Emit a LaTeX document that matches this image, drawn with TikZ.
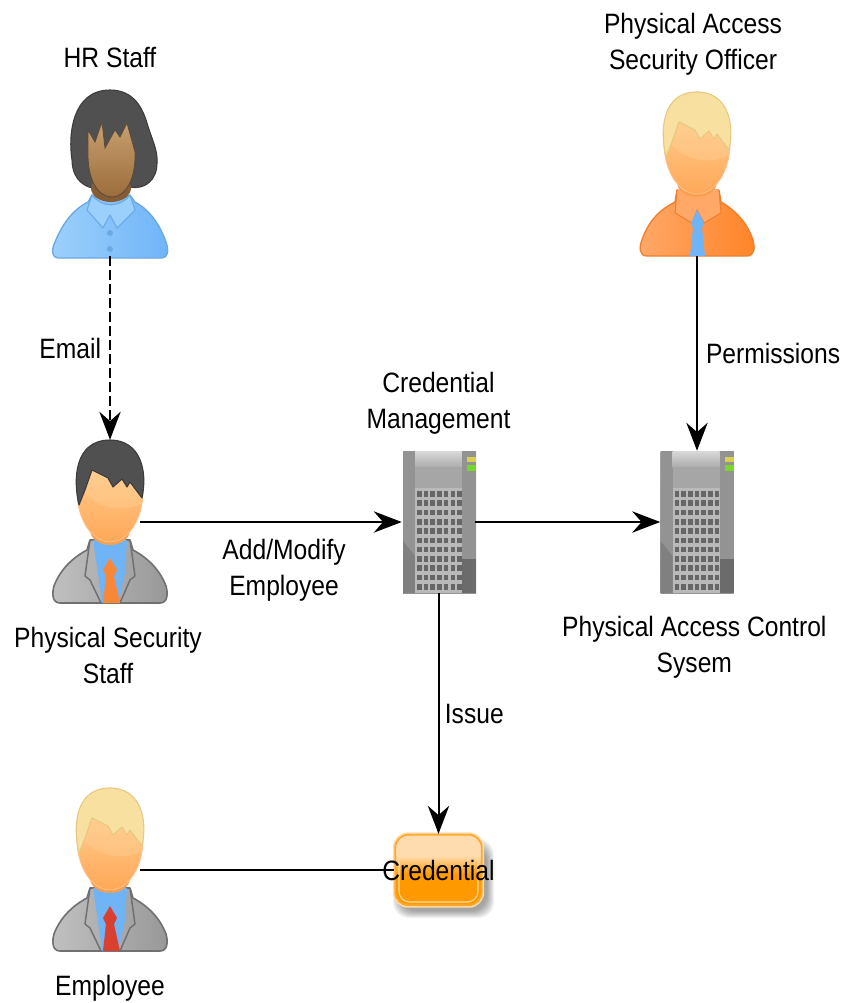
\documentclass[tikz,border=0pt]{standalone}
\usepackage{fontspec}
\setmainfont{Liberation Sans}[FakeStretch=0.88]
\usetikzlibrary{positioning,arrows.meta}

\definecolor{blondfill}{HTML}{F8E0A0}
\definecolor{blonddraw}{HTML}{E8C880}
\definecolor{darkfill}{HTML}{505050}
\definecolor{darkdraw}{HTML}{3C3C3C}
\definecolor{skintop}{HTML}{FFD8A0}
\definecolor{skinbot}{HTML}{FFA858}
\definecolor{skinneck}{HTML}{F8A050}
\definecolor{browntop}{HTML}{C8A070}
\definecolor{brownbot}{HTML}{9C6C3C}
\definecolor{shirtblue}{HTML}{70B4F8}
\definecolor{shirtlight}{HTML}{9CD0FC}
\definecolor{shirtdraw}{HTML}{6CA8E4}
\definecolor{suitlight}{HTML}{C0C0C0}
\definecolor{suitdark}{HTML}{989898}
\definecolor{suitdraw}{HTML}{707070}
\definecolor{tieorange}{HTML}{F88838}
\definecolor{tiered}{HTML}{D84030}
\definecolor{orangelight}{HTML}{FFA868}
\definecolor{orangedark}{HTML}{FF8428}
\definecolor{orangedraw}{HTML}{EE8030}
\definecolor{credtop}{HTML}{FFDCB0}
\definecolor{credbot}{HTML}{FF9900}
\definecolor{credring}{HTML}{FFA830}
\definecolor{credhalo}{HTML}{FFDDA8}

\pgfdeclareverticalshading{credshade}{100bp}{color(0bp)=(credbot); color(47bp)=(credbot);
  color(60bp)=(credtop); color(100bp)=(credtop)}

\tikzset{
  line/.style={line width=1.5pt,-{Stealth[length=21pt,width=16pt,inset=7pt]}},
  plainline/.style={line width=1.5pt},
  lab/.style={font=\fontsize{21}{27}\selectfont,align=center,inner sep=2pt},
  personbox/.style={minimum width=45pt,minimum height=123pt,inner sep=0pt},
  serverbox/.style={minimum width=54.75pt,minimum height=106.5pt,inner sep=0pt},
  credbox/.style={rounded corners=10pt,minimum width=65pt,minimum height=53pt,inner sep=0pt,
    draw=credring,line width=1.3pt,shading=credshade,preaction={draw=credhalo,line width=3.6pt}},
  pics/shortface/.style={code={
    \fill[skinneck] (0,90) ellipse [x radius=20,y radius=15];
    \shade[top color=skintop,bottom color=skinbot,draw=skinbot!70!white,line width=.6pt]
      (0,51) ellipse [x radius=33,y radius=51];
    \begin{scope}
      \clip (0,51) ellipse [x radius=33,y radius=51];
      \fill[skintop,opacity=.3] (-34,44) .. controls (-14,70) and (14,74) .. (34,62) -- (34,0) -- (-34,0) -- cycle;
    \end{scope}
  }},
  pics/shorthair/.style 2 args={code={
    \draw[fill=#1,draw=#2,line width=.8pt,line join=round]
      (-31,65) .. controls (-37,40) and (-36,0) .. (0,0) .. controls (30,0) and (38,30) .. (32,58)
      -- (20,42) -- (17,47) -- (12,39) -- (3,47) -- (-2,38) -- (-18,30) -- (-25,50) -- cycle;
  }},
  pics/suitbody/.style={code={
    \draw[left color=suitlight,right color=suitdark,draw=suitdraw,line width=1.2pt,line join=round]
      (-50,163) .. controls (-58,163) and (-58,153) .. (-56,146)
      .. controls (-50,130) and (-38,118) .. (-23,110) -- (-20,100) -- (20,100) -- (23,110)
      .. controls (38,118) and (50,130) .. (56,146) .. controls (58,153) and (58,163) .. (50,163) -- cycle;
    \fill[shirtblue] (-17,100) -- (17,100) -- (15,133) -- (8,163) -- (-8,163) -- (-12,133) -- cycle;
    \draw[suitdraw,line width=1.1pt,line join=round] (-20,100) -- (-25,136) -- (-20,140) -- (-9,163);
    \draw[suitdraw,line width=1.1pt,line join=round] (20,100) -- (25,136) -- (20,140) -- (10,163);
    \fill[#1] (0,118) -- (7,130) -- (4,136) -- (10,163) -- (-7,163) -- (-4,136) -- (-7,130) -- cycle;
  }},
  pics/officerbody/.style={code={
    \draw[left color=orangelight,right color=orangedark,draw=orangedraw,line width=1pt,line join=round]
      (-50,164) .. controls (-58,164) and (-58,155) .. (-55,148)
      .. controls (-49,130) and (-38,118) .. (-22,110) -- (-20,98) -- (22,98) -- (24,110)
      .. controls (38,118) and (50,130) .. (56,148) .. controls (58,155) and (58,164) .. (50,164) -- cycle;
    \draw[fill=orangelight,draw=orangedraw,line width=.8pt,line join=round]
      (-20,98) -- (-22,121) -- (-5,131) -- (0,118) -- (7,131) -- (24,121) -- (22,98);
    \fill[shirtblue] (0,118) -- (7,131) -- (5,136) -- (8,164) -- (-7,164) -- (-4,136) -- (-6,131) -- cycle;
  }},
  pics/bobhead/.style={code={
    \draw[fill=darkfill,draw=darkdraw,line width=.8pt]
      (-18,98) .. controls (-30,95) and (-38,85) .. (-38,70) .. controls (-42,45) and (-38,0) .. (0,0)
      .. controls (25,0) and (33,20) .. (37,33) .. controls (42,50) and (48,60) .. (47,73)
      .. controls (47,90) and (35,100) .. (20,97) -- cycle;
    \fill[brownbot!85!black] (1,98) ellipse [x radius=20,y radius=14];
    \shade[top color=browntop,bottom color=brownbot,draw=darkdraw!70!brownbot,line width=.6pt]
      (-22,40) -- (-15,52) -- (-8,32) -- (-5,58) -- (5,40) -- (10,47) -- (17,33) -- (25,62)
      .. controls (26,90) and (15,107) .. (2,107) .. controls (-12,107) and (-23,90) .. (-22,60) -- cycle;
  }},
  pics/bobbody/.style={code={
    \draw[left color=shirtlight,right color=shirtblue,draw=shirtdraw,line width=1pt,line join=round]
      (-52,168) .. controls (-58,168) and (-59,160) .. (-55,152)
      .. controls (-48,135) and (-38,120) .. (-22,112) -- (-18,105) .. controls (-8,112) and (10,112) .. (20,105) -- (25,112)
      .. controls (40,120) and (50,135) .. (56,152) .. controls (59,160) and (58,168) .. (52,168) -- cycle;
    \draw[fill=shirtlight,draw=shirtdraw,line width=.8pt,line join=round]
      (-18,105) -- (-23,120) -- (-7,138) -- (0,125) -- (7,138) -- (25,120) -- (20,105)
      .. controls (10,118) and (-8,118) .. (-18,105) -- cycle;
    \fill[shirtdraw] (0,143) circle [radius=3] (0,159) circle [radius=3];
  }},
  pics/servertower/.style={code={
    \shade[top color=gray!70,bottom color=gray!85] (0,0) rectangle (73,142);
    \fill[gray!85] (0,0) rectangle (12,142);
    \fill[gray!100] (0,90) -- (12,105) -- (12,142) -- (0,142) -- cycle;
    \shade[top color=gray!30,bottom color=gray!65] (12,0) rectangle (59,16);
    \fill[gray!70] (12,16) rectangle (59,37);
    \fill[gray!55] (12,37) rectangle (59,142);
    \fill[gray!85] (59,0) rectangle (73,142);
    \fill[black!58] (59,108) rectangle (73,142);
    \fill[yellow!65!gray] (64,6) rectangle (73,11);
    \fill[green!55!yellow!70!gray] (64,14) rectangle (73,20);
    \foreach \col in {0,...,6}
      \foreach \row in {0,...,10}
        \fill[black!60] (14+6.7*\col,40+9.3*\row) rectangle +(4.6,5.6);
  }},
}

\begin{document}
\begin{tikzpicture}[x=0.75pt,y=-0.75pt]
  \useasboundingbox[fill=white] (0,0) rectangle (843,1003);

  % people and servers
  \node[personbox] (hr) at (110,174) {};
  \node[personbox] (officer) at (697,174) {};
  \node[personbox] (phys) at (110,522) {};
  \node[personbox] (employee) at (110,870) {};
  \node[serverbox] (cms) at (438.5,522) {};
  \node[serverbox] (pacs) at (697,522) {};

  \pic at (110,90) {bobbody};
  \pic at (110,90) {bobhead};
  \pic at (697,92) {officerbody};
  \pic at (697,92) {shortface};
  \pic at (697,92) {shorthair={blondfill}{blonddraw}};
  \pic at (110,440) {suitbody=tieorange};
  \pic at (110,440) {shortface};
  \pic at (110,440) {shorthair={darkfill}{darkdraw}};
  \pic at (110,788) {suitbody=tiered};
  \pic at (110,788) {shortface};
  \pic at (110,788) {shorthair={blondfill}{blonddraw}};
  \pic at (403,451) {servertower};
  \pic at (660.5,451) {servertower};

  % credential with its soft shadow
  \foreach \s in {7,6,5,4,3,2,1,0}
    \fill[black,opacity=.05,rounded corners=12pt] (400-\s,846-\s) rectangle (487+\s,911+\s);
  \node[credbox] (cred) at (438.5,870) {};
  \draw[credhalo,line width=.8pt,rounded corners=8pt] (399,839) rectangle (478,902);

  \draw[line,dash pattern=on 7pt off 3.5pt] (hr) -- node[lab,left=4pt] {Email} (phys);
  \draw[line] (officer) -- node[lab,right=4pt] {Permissions} (pacs);
  \draw[line] (phys) -- node[lab,below=10pt,pos=.55] {Add/Modify\\Employee} (cms);
  \draw[line] (cms) -- (pacs);
  \draw[line] (cms) -- node[lab,right=2pt] {Issue} (cred);
  \draw[plainline] (employee) -- (cred);

  \node[lab,above=15.5pt of hr] (hrlabel) {HR Staff};
  \node[lab,above=10pt of officer,xshift=-3pt] (officerlabel) {Physical Access\\Security Officer};
  \node[lab,above=10pt of cms] (cmslabel) {Credential\\Management};
  \node[lab,below=15pt of pacs,xshift=-2pt] (pacslabel) {Physical Access Control\\Sysem};
  \node[lab,below=15pt of phys,xshift=-1.5pt] (physlabel) {Physical Security\\Staff};
  \node[lab,below=15pt of employee] (employeelabel) {Employee};
  \node[lab] (credlabel) at (cred) {Credential};
\end{tikzpicture}
\end{document}
